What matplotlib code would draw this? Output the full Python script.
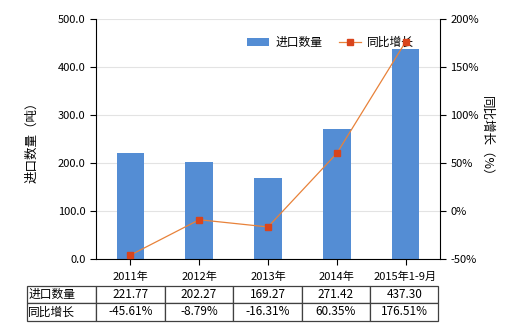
import matplotlib
matplotlib.use("Agg")
import matplotlib.pyplot as plt
from matplotlib.ticker import FuncFormatter
import numpy as np

plt.rcParams['font.family'] = ['Noto Sans CJK SC', 'DejaVu Sans']
plt.rcParams['font.size'] = 8

categories = ["2011年", "2012年", "2013年", "2014年", "2015年1-9月"]
import_qty = [221.77, 202.27, 169.27, 271.42, 437.30]
yoy_growth = [-45.61, -8.79, -16.31, 60.35, 176.51]
qty_labels = ["221.77", "202.27", "169.27", "271.42", "437.30"]
growth_labels = ["-45.61%", "-8.79%", "-16.31%", "60.35%", "176.51%"]
row_names = ["进口数量", "同比增长"]
left_ticks = [0, 100, 200, 300, 400, 500]
right_ticks = [-50, 0, 50, 100, 150, 200]

W, H = 520, 330
fig = plt.figure(figsize=(W/100, H/100), dpi=100)
L, R, T, B = 96, 440, 19.3, 259.3
ax = fig.add_axes([L/W, 1 - B/H, (R-L)/W, (B-T)/H])

x = np.arange(len(categories))
bars = ax.bar(x, import_qty, width=0.4, color="#548DD4", label="进口数量", zorder=2)
ax.set_xlim(-0.5, len(categories) - 0.5)
ax.set_ylim(0, 500)
ax.set_yticks(left_ticks)
ax.yaxis.set_major_formatter(FuncFormatter(lambda v, p: f"{v:.1f}"))
ax.grid(axis='y', color="#E3E3E3", linewidth=0.8, zorder=0)
ax.set_axisbelow(True)
ax.set_xticks(x)
ax.set_xticklabels(categories)
ax.tick_params(axis='x', length=4, pad=5)
ax.tick_params(axis='y', length=4)
for s in ['top', 'right']:
    ax.spines[s].set_visible(False)
ax.set_ylabel("进口数量（吨）", labelpad=14, fontsize=9)

ax2 = ax.twinx()
line, = ax2.plot(x, yoy_growth, color="#E8823A", linewidth=0.9, marker='s',
                 markersize=4.5, markerfacecolor="#D9441C", markeredgecolor="#D9441C",
                 label="同比增长", zorder=3)
ax2.set_ylim(-50, 200)
ax2.set_yticks(right_ticks)
ax2.yaxis.set_major_formatter(FuncFormatter(lambda v, p: f"{v:.0f}%"))
ax2.tick_params(axis='y', length=4)
for s in ['top', 'left', 'bottom']:
    ax2.spines[s].set_visible(False)
ax2.set_ylabel("同比增长（%）", rotation=270, labelpad=10, fontsize=9)

ax.legend([bars, line], ["进口数量", "同比增长"], loc='upper right',
          bbox_to_anchor=(0.955, 0.975), ncol=2, frameon=False,
          handlelength=1.9, handletextpad=0.5, columnspacing=1.4, fontsize=8.5)

cell_text = [[row_names[0]] + qty_labels, [row_names[1]] + growth_labels]
tb = ax.table(cellText=cell_text,
              bbox=[(27-L)/(R-L), -(320.7-B)/(B-T), (438.5-27)/(R-L), (320.7-285.7)/(B-T)],
              cellLoc='center')
tb.auto_set_font_size(False)
tb.set_fontsize(8.5)
first_w = (96.5-27)/(438.5-27)
other_w = (1 - first_w) / len(categories)
for (r, c), cell in tb.get_celld().items():
    cell.set_edgecolor("#404040")
    cell.set_linewidth(0.9)
    cell.set_width(first_w if c == 0 else other_w)
    if c == 0:
        cell.get_text().set_ha('left')
        cell.PAD = 0.02

fig.savefig("out.png", dpi=100)
